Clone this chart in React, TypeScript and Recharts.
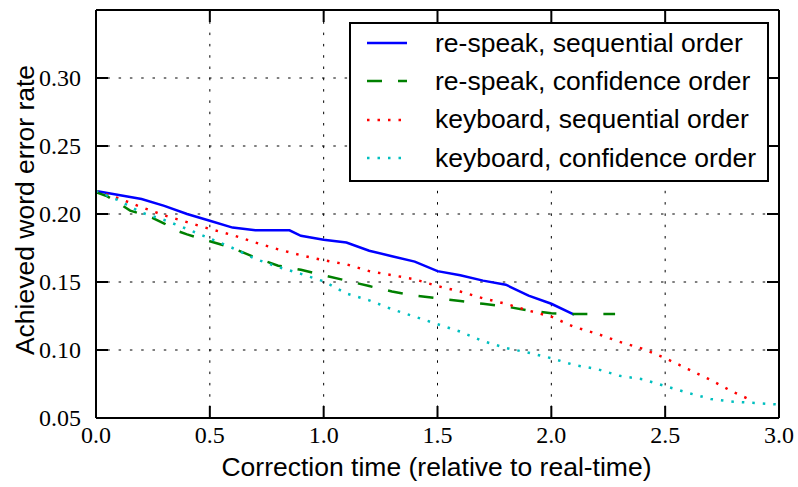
import { LineChart, Line, XAxis, YAxis, CartesianGrid, Legend, Label } from 'recharts';

const respeakSeqT = [0, 0.1, 0.2, 0.3, 0.4, 0.5, 0.6, 0.7, 0.85, 0.9, 1.0, 1.1, 1.2, 1.3, 1.4, 1.5, 1.6, 1.7, 1.8, 1.9, 2.0, 2.1];
const respeakSeqWer = [0.217, 0.214, 0.211, 0.206, 0.2, 0.195, 0.19, 0.188, 0.188, 0.184, 0.181, 0.179, 0.173, 0.169, 0.165, 0.158, 0.155, 0.151, 0.148, 0.14, 0.134, 0.126];

const respeakConfT = [0, 0.05, 0.1, 0.15, 0.2, 0.25, 0.3, 0.35, 0.4, 0.5, 0.6, 0.7, 0.8, 0.9, 1.0, 1.1, 1.2, 1.3, 1.4, 1.5, 1.6, 1.7, 1.8, 1.9, 2.0, 2.1, 2.28];
const respeakConfWer = [0.216, 0.213, 0.208, 0.2025, 0.2, 0.197, 0.193, 0.188, 0.185, 0.18, 0.175, 0.168, 0.162, 0.159, 0.155, 0.151, 0.147, 0.143, 0.14, 0.138, 0.136, 0.134, 0.132, 0.129, 0.127, 0.1265, 0.1265];

const keyboardSeqT = [0, 0.1, 0.2, 0.3, 0.4, 0.5, 0.6, 0.7, 0.8, 0.9, 1.0, 1.1, 1.2, 1.3, 1.4, 1.5, 1.6, 1.7, 1.8, 1.9, 2.0, 2.1, 2.2, 2.3, 2.4, 2.5, 2.6, 2.7, 2.8, 2.88];
const keyboardSeqWer = [0.217, 0.2115, 0.205, 0.199, 0.194, 0.189, 0.1845, 0.179, 0.174, 0.1697, 0.166, 0.163, 0.158, 0.155, 0.152, 0.147, 0.143, 0.138, 0.134, 0.129, 0.1245, 0.117, 0.112, 0.106, 0.101, 0.094, 0.086, 0.078, 0.069, 0.063];

const keyboardConfT = [0, 0.1, 0.2, 0.3, 0.4, 0.5, 0.6, 0.7, 0.8, 0.9, 1.0, 1.1, 1.2, 1.3, 1.4, 1.5, 1.6, 1.7, 1.8, 1.9, 2.0, 2.1, 2.2, 2.3, 2.4, 2.5, 2.6, 2.7, 2.8, 2.9, 2.99];
const keyboardConfWer = [0.217, 0.21, 0.201, 0.1956, 0.189, 0.182, 0.175, 0.167, 0.161, 0.156, 0.1505, 0.1415, 0.1365, 0.13, 0.1245, 0.119, 0.1135, 0.1065, 0.1015, 0.098, 0.094, 0.089, 0.086, 0.081, 0.0785, 0.0735, 0.0685, 0.064, 0.062, 0.061, 0.06];

const xTicks = [0, 0.5, 1.0, 1.5, 2.0, 2.5, 3.0];
const yTicks = [0.05, 0.1, 0.15, 0.2, 0.25, 0.3];

const zip = (ts: number[], vs: number[]) => ts.map((t, i) => ({ t, wer: vs[i] }));

// the first series is bound to the top/right twin axes (same domains as the main ones)
const series = [
  { name: 're-speak, sequential order', data: zip(respeakSeqT, respeakSeqWer), color: '#0000ff', dash: undefined, width: 2.5, xId: 'top', yId: 'right' },
  { name: 're-speak, confidence order', data: zip(respeakConfT, respeakConfWer), color: '#008000', dash: '15 16', width: 2.5, xId: 0, yId: 0 },
  { name: 'keyboard, sequential order', data: zip(keyboardSeqT, keyboardSeqWer), color: '#ff0000', dash: '2.5 8', width: 2.5, xId: 0, yId: 0 },
  { name: 'keyboard, confidence order', data: zip(keyboardConfT, keyboardConfWer), color: '#00bfbf', dash: '2.5 8', width: 2.5, xId: 0, yId: 0 },
];

const SERIF = '"Liberation Serif", "DejaVu Serif", serif';
const SANS = '"Liberation Sans", Arial, sans-serif';
const TICK_LEN = 12;
const tickLineStyle = { stroke: '#000', strokeWidth: 2 };
const axisLineStyle = { stroke: '#000', strokeWidth: 2 };

// negative tickSize puts the tick marks inside the frame; labels shifted back outside
const BottomTick = ({ x, y, payload }: any) => (
  <text x={x} y={y + TICK_LEN + 25} textAnchor="middle" fontFamily={SERIF} fontSize={24} fill="#000">
    {Number(payload.value).toFixed(1)}
  </text>
);

const LeftTick = ({ x, y, payload }: any) => (
  <text x={x - TICK_LEN - 15} y={y + 8} textAnchor="end" fontFamily={SERIF} fontSize={24} fill="#000">
    {Number(payload.value).toFixed(2)}
  </text>
);

const NoLabel = () => <g />;

const renderLegend = () => (
  <div
    style={{
      width: '100%',
      height: '100%',
      boxSizing: 'border-box',
      border: '2px solid #000',
      background: '#fff',
      fontFamily: SANS,
      fontSize: 26.5,
      color: '#000',
    }}
  >
    {series.map(s => (
      <div key={s.name} style={{ height: 38.3, display: 'flex', alignItems: 'center', paddingLeft: 16 }}>
        <svg width={40} height={10} style={{ flex: 'none' }}>
          <line x1={0} y1={5} x2={40} y2={5} stroke={s.color} strokeWidth={s.width} strokeDasharray={s.dash} />
        </svg>
        <span style={{ marginLeft: 28, whiteSpace: 'nowrap', lineHeight: 1 }}>{s.name}</span>
      </div>
    ))}
  </div>
);

export default function App() {
  return (
    <div style={{ position: 'absolute', left: 0, top: 0, background: '#fff' }}>
      <LineChart width={798} height={487} margin={{ top: 9, right: 18, bottom: 0, left: 0 }}>
        <CartesianGrid stroke="#000" strokeWidth={1} strokeDasharray="2.5 8.8" />
        <XAxis
          dataKey="t"
          type="number"
          domain={[0, 3]}
          ticks={xTicks}
          allowDataOverflow
          axisLine={axisLineStyle}
          tickLine={tickLineStyle}
          tickSize={-TICK_LEN}
          tickMargin={0}
          tick={<BottomTick />}
          height={69}
          interval={0}
        >
          <Label
            content={({ viewBox }: any) => (
              <text
                x={viewBox.x + viewBox.width / 2 - 1}
                y={viewBox.y + 58}
                textAnchor="middle"
                fontFamily={SANS}
                fontSize={26.5}
                fill="#000"
              >
                Correction time (relative to real-time)
              </text>
            )}
          />
        </XAxis>
        <XAxis
          xAxisId="top"
          orientation="top"
          dataKey="t"
          type="number"
          domain={[0, 3]}
          ticks={xTicks}
          allowDataOverflow
          axisLine={axisLineStyle}
          tickLine={tickLineStyle}
          tickSize={-TICK_LEN}
          tickMargin={0}
          tick={<NoLabel />}
          height={1}
          interval={0}
        />
        <YAxis
          type="number"
          domain={[0.05, 0.35]}
          ticks={yTicks}
          allowDataOverflow
          axisLine={axisLineStyle}
          tickLine={tickLineStyle}
          tickSize={-TICK_LEN}
          tickMargin={0}
          tick={<LeftTick />}
          width={96}
          interval={0}
        >
          <Label
            content={({ viewBox }: any) => {
              const cx = 25;
              const cy = viewBox.y + viewBox.height / 2 - 4;
              return (
                <text
                  x={cx}
                  y={cy}
                  transform={`rotate(-90 ${cx} ${cy})`}
                  textAnchor="middle"
                  dominantBaseline="central"
                  fontFamily={SANS}
                  fontSize={26.5}
                  fill="#000"
                >
                  Achieved word error rate
                </text>
              );
            }}
          />
        </YAxis>
        <YAxis
          yAxisId="right"
          orientation="right"
          type="number"
          domain={[0.05, 0.35]}
          ticks={yTicks}
          allowDataOverflow
          axisLine={axisLineStyle}
          tickLine={tickLineStyle}
          tickSize={-TICK_LEN}
          tickMargin={0}
          tick={<NoLabel />}
          width={1}
          interval={0}
        />
        {series.map(s => (
          <Line
            key={s.name}
            data={s.data}
            dataKey="wer"
            name={s.name}
            xAxisId={s.xId}
            yAxisId={s.yId}
            type="linear"
            stroke={s.color}
            strokeWidth={s.width}
            strokeDasharray={s.dash}
            dot={false}
            activeDot={false}
            isAnimationActive={false}
          />
        ))}
        <Legend
          layout="vertical"
          align="center"
          verticalAlign="middle"
          content={renderLegend}
          wrapperStyle={{ left: 349, top: 22, width: 420, height: 160, margin: 0 }}
        />
      </LineChart>
    </div>
  );
}
